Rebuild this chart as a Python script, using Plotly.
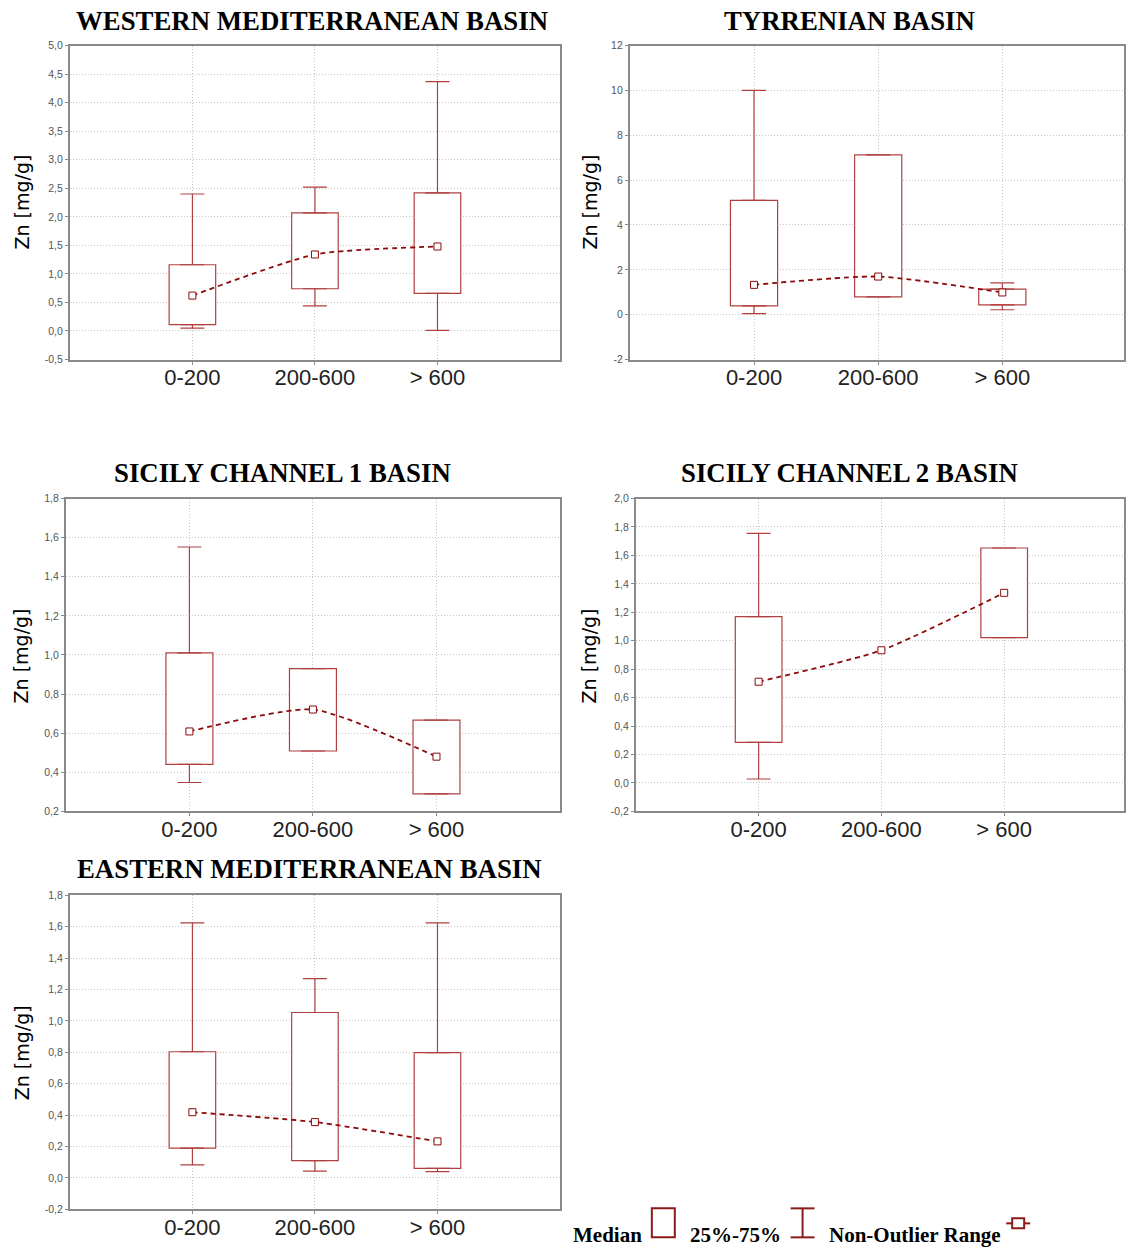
import plotly.graph_objects as go

# Depth classes (m)
categories = ["0-200", "200-600", "> 600"]

# Zn concentration summaries per basin: whisker low, Q1, median, Q3, whisker high
western_low = [0.05, 0.44, 0.01]
western_q1 = [0.11, 0.74, 0.66]
western_median = [0.62, 1.34, 1.48]
western_q3 = [1.16, 2.07, 2.42]
western_high = [2.40, 2.52, 4.37]

tyrrenian_low = [0.05, 0.79, 0.22]
tyrrenian_q1 = [0.39, 0.79, 0.44]
tyrrenian_median = [1.33, 1.70, 0.99]
tyrrenian_q3 = [5.10, 7.13, 1.14]
tyrrenian_high = [10.0, 7.13, 1.42]

sicily1_low = [0.348, 0.509, 0.290]
sicily1_q1 = [0.441, 0.509, 0.290]
sicily1_median = [0.609, 0.721, 0.480]
sicily1_q3 = [1.011, 0.930, 0.667]
sicily1_high = [1.552, 0.930, 0.667]

sicily2_low = [0.028, None, 1.022]
sicily2_q1 = [0.285, None, 1.022]
sicily2_median = [0.712, 0.933, 1.337]
sicily2_q3 = [1.169, None, 1.652]
sicily2_high = [1.755, None, 1.652]

eastern_low = [0.083, 0.044, 0.040]
eastern_q1 = [0.190, 0.110, 0.061]
eastern_median = [0.419, 0.356, 0.233]
eastern_q3 = [0.804, 1.054, 0.798]
eastern_high = [1.625, 1.270, 1.625]

titles = [
    "WESTERN MEDITERRANEAN BASIN",
    "TYRRENIAN BASIN",
    "SICILY CHANNEL 1 BASIN",
    "SICILY CHANNEL 2 BASIN",
    "EASTERN MEDITERRANEAN BASIN",
]
y_title = "Zn [mg/g]"
legend_labels = ["Median", "25%-75%", "Non-Outlier Range"]

W, H = 1126, 1250
# vertical pixel grid of the page layout (offset and stretch)
V_OFF, V_SCALE = 5.4, 0.9906

BOX_COLOR = "#b04040"
MED_COLOR = "#8b0a0a"
ICON_COLOR = "#8b1a1a"
GRID_COLOR = "#c4c4c4"
FRAME_COLOR = "#8a8a8a"


def px_x(p):
    return p / W


def px_y(p):
    return 1 - ((p - V_OFF) / V_SCALE) / H


panels = [
    dict(low=western_low, q1=western_q1, med=western_median, q3=western_q3, high=western_high,
         xdom=(70, 561), ydom=(45, 359), xrange=(-1, 3), yrange=(-0.5, 5.0), dtick=0.5, dec=1,
         title_xy=(313, 20), ytitle_xy=(22, 201)),
    dict(low=tyrrenian_low, q1=tyrrenian_q1, med=tyrrenian_median, q3=tyrrenian_q3, high=tyrrenian_high,
         xdom=(631, 1126), ydom=(45, 359), xrange=(-1, 2.98), yrange=(-2, 12), dtick=2, dec=0,
         title_xy=(851, 20), ytitle_xy=(591, 201)),
    dict(low=sicily1_low, q1=sicily1_q1, med=sicily1_median, q3=sicily1_q3, high=sicily1_high,
         xdom=(66, 561), ydom=(498, 811), xrange=(-1, 3), yrange=(0.2, 1.8), dtick=0.2, dec=1,
         title_xy=(283, 472), ytitle_xy=(22, 655)),
    dict(low=sicily2_low, q1=sicily2_q1, med=sicily2_median, q3=sicily2_q3, high=sicily2_high,
         xdom=(637, 1126), ydom=(498, 811), xrange=(-1, 2.976), yrange=(-0.2, 2.0), dtick=0.2, dec=1,
         title_xy=(851, 472), ytitle_xy=(591, 655)),
    dict(low=eastern_low, q1=eastern_q1, med=eastern_median, q3=eastern_q3, high=eastern_high,
         xdom=(70, 561), ydom=(895, 1209), xrange=(-1, 3), yrange=(-0.2, 1.8), dtick=0.2, dec=1,
         title_xy=(310, 869), ytitle_xy=(22, 1052)),
]

fig = go.Figure()
annotations = []
layout_axes = {}

for i, p in enumerate(panels):
    n = i + 1
    xa = "x" if n == 1 else f"x{n}"
    ya = "y" if n == 1 else f"y{n}"
    xs = list(range(len(categories)))

    # interquartile boxes
    heights = [None if (a is None or b is None) else b - a for a, b in zip(p["q1"], p["q3"])]
    fig.add_trace(go.Bar(
        x=xs, y=heights, base=p["q1"], width=0.38, xaxis=xa, yaxis=ya,
        marker=dict(color="white", line=dict(color=BOX_COLOR, width=1.2)),
        showlegend=False, hoverinfo="skip",
    ))

    # upper whiskers
    up = [None if (a is None or b is None) else b - a for a, b in zip(p["q3"], p["high"])]
    fig.add_trace(go.Scatter(
        x=xs, y=p["q3"], mode="markers", xaxis=xa, yaxis=ya,
        marker=dict(size=1, opacity=0),
        error_y=dict(type="data", symmetric=False, array=up,
                     arrayminus=[0 if v is not None else None for v in up],
                     color=BOX_COLOR, thickness=1.2, width=12),
        showlegend=False, hoverinfo="skip",
    ))
    # lower whiskers
    dn = [None if (a is None or b is None) else a - b for a, b in zip(p["q1"], p["low"])]
    fig.add_trace(go.Scatter(
        x=xs, y=p["q1"], mode="markers", xaxis=xa, yaxis=ya,
        marker=dict(size=1, opacity=0),
        error_y=dict(type="data", symmetric=False, arrayminus=dn,
                     array=[0 if v is not None else None for v in dn],
                     color=BOX_COLOR, thickness=1.2, width=12),
        showlegend=False, hoverinfo="skip",
    ))

    # medians joined by a dashed curve
    fig.add_trace(go.Scatter(
        x=xs, y=p["med"], mode="lines+markers", xaxis=xa, yaxis=ya,
        line=dict(color=MED_COLOR, width=1.8, dash="5px,4px", shape="spline", smoothing=0.6),
        marker=dict(symbol="square", size=7, color="white",
                    line=dict(color=MED_COLOR, width=1)),
        showlegend=False,
    ))

    y0, y1 = p["yrange"]
    nt = int(round((y1 - y0) / p["dtick"]))
    tickvals = [round(y0 + k * p["dtick"], 4) for k in range(nt + 1)]
    ticktext = [(f"{v:.{p['dec']}f}").replace(".", ",") for v in tickvals]

    axis_common = dict(
        showline=True, linecolor=FRAME_COLOR, linewidth=2, mirror=True,
        showgrid=True, gridcolor=GRID_COLOR, griddash="1px,2px", gridwidth=1,
        zeroline=False,
    )
    layout_axes["xaxis" if n == 1 else f"xaxis{n}"] = dict(
        axis_common,
        domain=[px_x(p["xdom"][0]), px_x(p["xdom"][1])],
        anchor=ya, range=list(p["xrange"]),
        tickmode="array", tickvals=xs, ticktext=categories,
        ticks="outside", ticklen=3, tickcolor=FRAME_COLOR, ticklabelstandoff=-6,
        tickfont=dict(family="Liberation Sans, Arial", size=22, color="#222222"),
    )
    layout_axes["yaxis" if n == 1 else f"yaxis{n}"] = dict(
        axis_common,
        domain=[px_y(p["ydom"][1]), px_y(p["ydom"][0])],
        anchor=xa, range=[y0, y1],
        tickmode="array", tickvals=tickvals, ticktext=ticktext,
        ticks="outside", ticklen=3, tickcolor=FRAME_COLOR,
        tickfont=dict(family="Liberation Sans, Arial", size=10.5, color="#555555"),
    )

    tx, ty = p["title_xy"]
    annotations.append(dict(
        text=f"<b>{titles[i]}</b>", x=px_x(tx), y=px_y(ty), xref="paper", yref="paper",
        xanchor="center", yanchor="middle", showarrow=False,
        font=dict(family="Liberation Serif, Times New Roman", size=26.8, color="#000000"),
    ))
    ax_, ay_ = p["ytitle_xy"]
    annotations.append(dict(
        text=y_title, x=px_x(ax_), y=px_y(ay_), xref="paper", yref="paper",
        xanchor="center", yanchor="middle", showarrow=False, textangle=-90,
        font=dict(family="DejaVu Sans", size=19, color="#000000"),
    ))

# legend strip along the bottom right
legend_font = dict(family="Liberation Serif, Times New Roman", size=21, color="#000000")
for label, x0 in zip(legend_labels, [572, 689, 828]):
    annotations.append(dict(
        text=f"<b>{label}</b>", x=px_x(x0), y=px_y(1235), xref="paper", yref="paper",
        xanchor="left", yanchor="middle", showarrow=False, font=legend_font,
    ))

shapes = [
    # box icon
    dict(type="rect", xref="paper", yref="paper",
         x0=px_x(653), x1=px_x(676), y0=px_y(1237), y1=px_y(1208),
         line=dict(color=ICON_COLOR, width=2), fillcolor="white"),
    # whisker icon
    dict(type="line", xref="paper", yref="paper",
         x0=px_x(804), x1=px_x(804), y0=px_y(1237), y1=px_y(1208),
         line=dict(color=ICON_COLOR, width=2)),
    dict(type="line", xref="paper", yref="paper",
         x0=px_x(792), x1=px_x(816), y0=px_y(1208), y1=px_y(1208),
         line=dict(color=ICON_COLOR, width=2)),
    dict(type="line", xref="paper", yref="paper",
         x0=px_x(792), x1=px_x(816), y0=px_y(1237), y1=px_y(1237),
         line=dict(color=ICON_COLOR, width=2)),
    # median icon
    dict(type="line", xref="paper", yref="paper",
         x0=px_x(1008), x1=px_x(1032), y0=px_y(1223), y1=px_y(1223),
         line=dict(color=ICON_COLOR, width=2)),
    dict(type="rect", xref="paper", yref="paper",
         x0=px_x(1014), x1=px_x(1026), y0=px_y(1228), y1=px_y(1218),
         line=dict(color=ICON_COLOR, width=2), fillcolor="white"),
]

fig.update_layout(
    width=W, height=H,
    margin=dict(l=0, r=0, t=0, b=0),
    paper_bgcolor="white", plot_bgcolor="white",
    barmode="overlay",
    showlegend=False,
    annotations=annotations,
    shapes=shapes,
    **layout_axes,
)

fig.write_html("out.html")
